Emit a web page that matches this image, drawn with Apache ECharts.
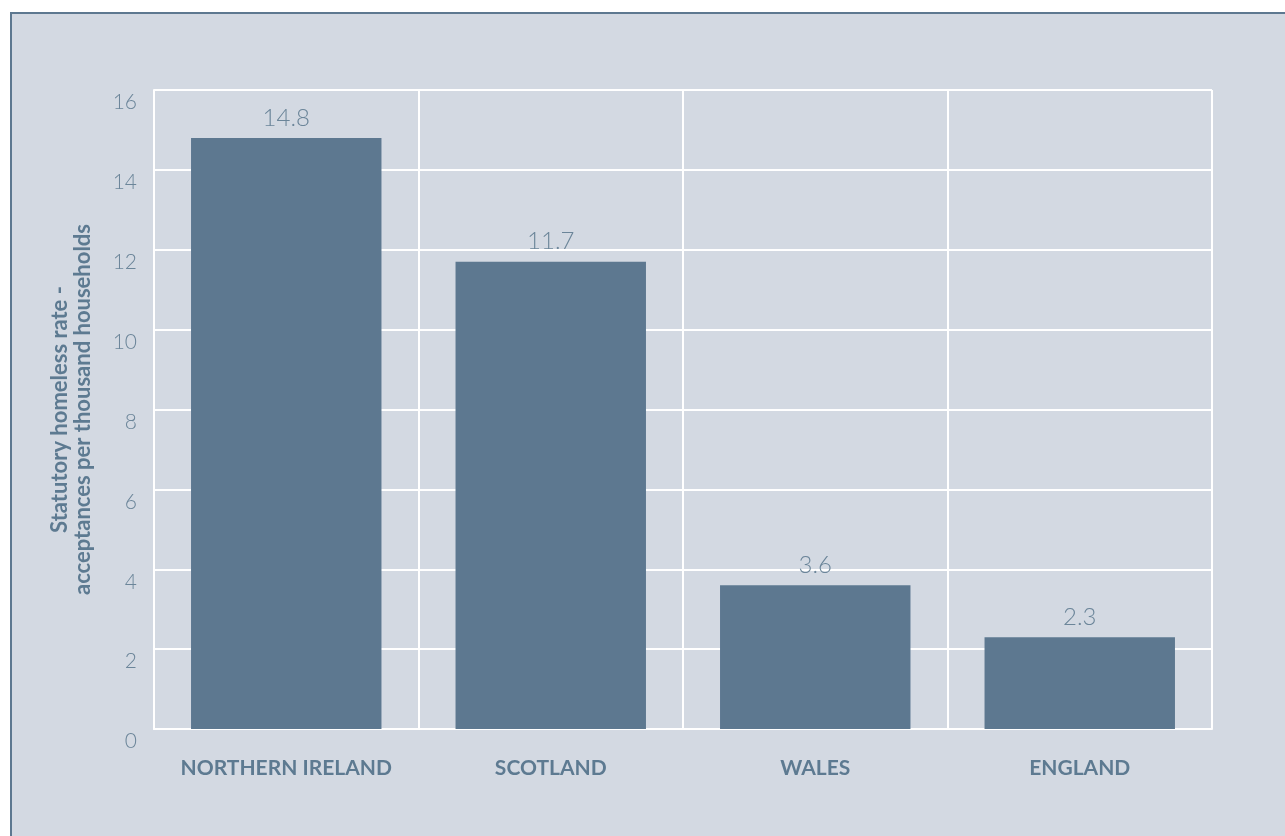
<!DOCTYPE html>
<html>
<head>
<meta charset="utf-8">
<script src="https://cdn.jsdelivr.net/npm/echarts@6/dist/echarts.min.js"></script>
<style>
html,body{margin:0;padding:0;background:#ffffff;}
#chart{width:1285px;height:836px;}
</style>
</head>
<body>
<div id="chart"></div>
<script>
const categories = ['NORTHERN IRELAND', 'SCOTLAND', 'WALES', 'ENGLAND'];
const values = [14.8, 11.7, 3.6, 2.3];
const yAxisTitle = 'Statutory homeless rate -\nacceptances per thousand households';

const textColor = '#5d7a91';
const barColor = '#5d7890';
const bgColor = '#d3d9e2';
const font = 'Lato, "Open Sans", sans-serif';

const chart = echarts.init(document.getElementById('chart'));
chart.setOption({
  animation: false,
  graphic: [{
    type: 'rect', z: -10, silent: true,
    shape: { x: 11, y: 13, width: 1300, height: 850 },
    style: { fill: bgColor, stroke: '#5d7890', lineWidth: 2 }
  }],
  grid: { left: 154, right: 73, top: 90, bottom: 107 },
  xAxis: {
    type: 'category',
    data: categories,
    axisLine: { show: true, lineStyle: { color: '#ffffff', width: 2 } },
    axisTick: { show: false },
    splitLine: { show: true, lineStyle: { color: '#ffffff', width: 2 } },
    axisLabel: { color: textColor, fontFamily: font, fontWeight: 'bold', fontSize: 21, margin: 29, interval: 0 }
  },
  yAxis: {
    type: 'value',
    min: 0, max: 16, interval: 2,
    name: yAxisTitle,
    nameLocation: 'middle',
    nameRotate: 90,
    nameGap: 60,
    nameTextStyle: { color: textColor, fontFamily: font, fontWeight: 'bold', fontSize: 22, lineHeight: 23 },
    axisLine: { show: true, lineStyle: { color: '#ffffff', width: 2 } },
    axisTick: { show: false },
    splitLine: { show: true, lineStyle: { color: '#ffffff', width: 2 } },
    axisLabel: { color: '#6b8599', fontFamily: font, fontWeight: 300, fontSize: 21, margin: 17, verticalAlign: 'top', padding: [2, 0, 0, 0] }
  },
  series: [{
    type: 'bar',
    data: values,
    barWidth: '72%',
    itemStyle: { color: barColor },
    label: { show: true, position: 'top', distance: 8, color: '#6b8599', fontFamily: font, fontWeight: 300, fontSize: 24 }
  }]
});
</script>
</body>
</html>
